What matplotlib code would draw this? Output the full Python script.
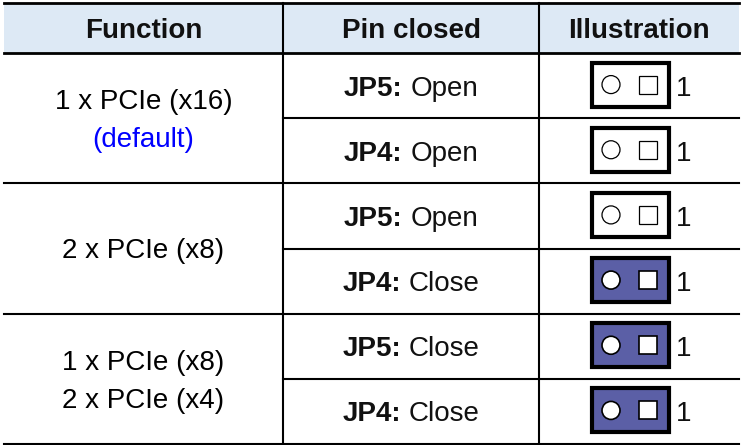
import matplotlib
matplotlib.use("Agg")
import matplotlib.pyplot as plt
from matplotlib.patches import Rectangle, Circle

plt.rcParams['font.family'] = ['Liberation Sans', 'DejaVu Sans']

# table content
headers = ["Function", "Pin closed", "Illustration"]
functions = [["1 x PCIe (x16)", "(default)"], ["2 x PCIe (x8)"], ["1 x PCIe (x8)", "2 x PCIe (x4)"]]
function_colors = [["black", "#0000ff"], ["black"], ["black", "black"]]
jumpers = ["JP5", "JP4", "JP5", "JP4", "JP5", "JP4"]
states = ["Open", "Open", "Open", "Close", "Close", "Close"]
rows_per_group = [2, 2, 2]

# layout (pixels)
W, H = 741, 445
col_x = [4, 283, 539, 739]
top, head_bot, bottom = 3, 53, 444
row_h = (bottom - head_bot) / len(states)
lw = 1.5
fs = 20
cap = 10  # half cap height in px
header_bg = "#dde9f5"
jumper_fill = "#5b5fa6"

fig = plt.figure(figsize=(W / 100, H / 100), dpi=100)
ax = fig.add_axes([0, 0, 1, 1])
ax.set_xlim(0, W)
ax.set_ylim(H, 0)
ax.axis('off')

# header band
ax.add_patch(Rectangle((col_x[0], top), col_x[3] - col_x[0], head_bot - top,
                       facecolor=header_bg, edgecolor='none'))
for i, h in enumerate(headers):
    cx = (col_x[i] + col_x[i + 1]) / 2
    ax.text(cx, (top + head_bot) / 2 + cap, h, ha='center', va='baseline',
            fontsize=fs, fontweight='bold', color='#111111')

# horizontal lines
ax.plot([col_x[0], col_x[3]], [top, top], color='black', lw=lw + 0.5)
ax.plot([col_x[0], col_x[3]], [head_bot, head_bot], color='black', lw=lw + 0.5)
r = 0
for g, n in enumerate(rows_per_group):
    for k in range(1, n + 1):
        y = head_bot + (r + k) * row_h
        x0 = col_x[0] if k == n else col_x[1]
        ax.plot([x0, col_x[3]], [y, y], color='black', lw=lw)
    # function text
    y0 = head_bot + r * row_h
    gc = y0 + n * row_h / 2
    lines = functions[g]
    gap = 38
    for j, (t, c) in enumerate(zip(lines, function_colors[g])):
        ty = gc + (j - (len(lines) - 1) / 2) * gap
        ax.text((col_x[0] + col_x[1]) / 2, ty + cap, t, ha='center', va='baseline',
                fontsize=fs, color=c)
    r += n

# vertical lines
for x in col_x[1:3]:
    ax.plot([x, x], [top, bottom], color='black', lw=lw)

renderer = fig.canvas.get_renderer()
space = 8

for i, (jp, st) in enumerate(zip(jumpers, states)):
    cy = head_bot + (i + 0.5) * row_h
    # pin text: bold label + regular state, centred as a pair
    tb = ax.text(0, cy + cap, jp + ":", ha='left', va='baseline', fontsize=fs,
                 fontweight='bold', color='#111111')
    tr = ax.text(0, cy + cap, st, ha='left', va='baseline', fontsize=fs, color='#111111')
    wb = tb.get_window_extent(renderer).width
    wr = tr.get_window_extent(renderer).width
    x0 = (col_x[1] + col_x[2]) / 2 - (wb + space + wr) / 2
    tb.set_x(x0)
    tr.set_x(x0 + wb + space)

    # jumper illustration
    closed = st == "Close"
    bx, bw, bh = 592, 77, 44
    ax.add_patch(Rectangle((bx, cy - bh / 2 - 1), bw, bh,
                           facecolor=jumper_fill if closed else 'white',
                           edgecolor='black', lw=3))
    ax.add_patch(Circle((611, cy - 1), 9, facecolor='white', edgecolor='black',
                        lw=1.2 if closed else 0.9))
    ax.add_patch(Rectangle((639, cy - 10), 18, 18, facecolor='white',
                           edgecolor='black', lw=1.2 if closed else 0.9))
    ax.text(676, cy + cap, "1", ha='left', va='baseline', fontsize=fs, color='#111111')

fig.savefig("out.png", dpi=100)
